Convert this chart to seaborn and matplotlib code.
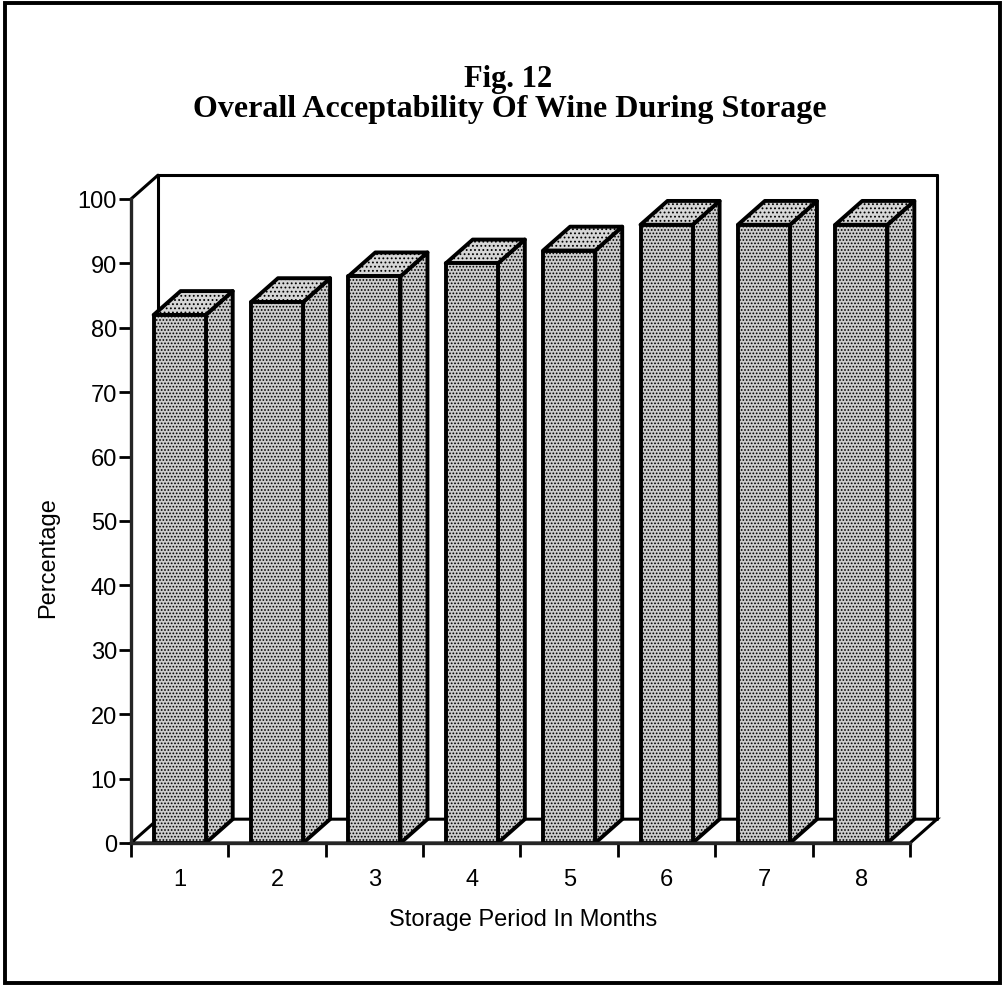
import numpy as np
import pandas as pd
import matplotlib
matplotlib.use('Agg')
import matplotlib.pyplot as plt
import seaborn as sns
from matplotlib.patches import Polygon, Rectangle

# ---------------- data ----------------
months = ['1', '2', '3', '4', '5', '6', '7', '8']
acceptability = [82, 84, 88, 90, 92, 96, 96, 96]
y_ticks = [0, 10, 20, 30, 40, 50, 60, 70, 80, 90, 100]
title_line1 = 'Fig. 12'
title_line2 = 'Overall Acceptability Of Wine During Storage'
x_label = 'Storage Period In Months'
y_label = 'Percentage'

# ---------------- style ----------------
sns.set_theme(style='white')
plt.rcParams['font.family'] = ['Liberation Sans', 'DejaVu Sans']
plt.rcParams['hatch.linewidth'] = 0.8

W, H = 1004, 987
fig = plt.figure(figsize=(W / 100, H / 100), dpi=100)
fig.patch.set_facecolor('white')

# front plane of the pseudo-3D box
ax = fig.add_axes([131 / W, (H - 844) / H, (910 - 131) / W, (844 - 200) / H])
ax.set_facecolor('none')

df = pd.DataFrame({'month': months, 'value': acceptability})
BAR_W = 0.535
FACE = '#cdcdcd'
TOP_FACE = '#d6d6d6'
HATCH = '.....'
LW = 2.8
sns.barplot(data=df, x='month', y='value', color=FACE, saturation=1,
            width=BAR_W, edgecolor='black', linewidth=LW, ax=ax, zorder=5)

ax.set_xlim(-0.5, len(months) - 0.5)
ax.set_ylim(0, 100)

# depth offset in data units
DX, DY = 0.277, 3.7
x_lo, x_hi = -0.5, len(months) - 0.5

# back wall + left wall edges
wall_kw = dict(color='black', lw=2.2, clip_on=False, zorder=1, solid_capstyle='round')
ax.plot([x_lo + DX, x_hi + DX], [100 + DY, 100 + DY], **wall_kw)
ax.plot([x_hi + DX, x_hi + DX], [100 + DY, DY], **wall_kw)
ax.plot([x_lo + DX, x_lo + DX], [100 + DY, DY], **wall_kw)
ax.plot([x_lo, x_lo + DX], [100, 100 + DY], **wall_kw)

# floor
floor = Polygon([(x_lo, 0), (x_hi, 0), (x_hi + DX, DY), (x_lo + DX, DY)],
                closed=True, facecolor='white', edgecolor='black', lw=2.2,
                clip_on=False, zorder=2)
ax.add_patch(floor)

# side and top faces of bars
for p in list(ax.patches):
    if p is floor:
        continue
    x0, w, h = p.get_x(), p.get_width(), p.get_height()
    p.set_hatch(HATCH)
    p.set_joinstyle('round')
    side = Polygon([(x0 + w, 0), (x0 + w + DX, DY), (x0 + w + DX, h + DY), (x0 + w, h)],
                   closed=True, facecolor=FACE, edgecolor='black', lw=LW,
                   hatch=HATCH, clip_on=False, zorder=4, joinstyle='round')
    top = Polygon([(x0, h), (x0 + w, h), (x0 + w + DX, h + DY), (x0 + DX, h + DY)],
                  closed=True, facecolor=TOP_FACE, edgecolor='black', lw=LW,
                  hatch='....', clip_on=False, zorder=4, joinstyle='round')
    ax.add_patch(side)
    ax.add_patch(top)

# spines
for s in ['top', 'right']:
    ax.spines[s].set_visible(False)
ax.spines['left'].set_linewidth(2.4)
ax.spines['bottom'].set_linewidth(2.4)
ax.spines['left'].set_zorder(6)
ax.spines['bottom'].set_zorder(6)

# y ticks
ax.set_yticks(y_ticks)
ax.set_yticklabels([str(v) for v in y_ticks])
ax.tick_params(axis='y', direction='out', length=8.6, width=2.0, pad=1.5,
               labelsize=17, left=True, color='black', labelcolor='black')

# x ticks: labels at centres, marks at boundaries
ax.set_xticks(range(len(months)))
ax.set_xticklabels(months)
ax.tick_params(axis='x', which='major', length=0, pad=18, labelsize=17,
               labelcolor='black')
ax.set_xticks(np.arange(len(months) + 1) - 0.5, minor=True)
ax.tick_params(axis='x', which='minor', direction='out', length=10, width=2.0,
               bottom=True, color='black')

ax.set_xlabel(x_label, fontsize=17, color='black')
ax.set_ylabel(y_label, fontsize=17, color='black')
ax.xaxis.set_label_coords((523 - 131) / 779, (844 - 920) / 644)
ax.xaxis.label.set_va('center')
ax.yaxis.set_label_coords((48 - 131) / 779, (844 - 558) / 644)
ax.yaxis.label.set_va('center')

# titles
serif = ['Liberation Serif', 'DejaVu Serif']
fig.text(508 / W, 1 - 79 / H, title_line1, ha='center', va='center',
         fontsize=22, fontweight='bold', family=serif, color='black')
fig.text(510 / W, 1 - 109 / H, title_line2, ha='center', va='center',
         fontsize=23, fontweight='bold', family=serif, color='black')

# outer border
fig.patches.append(Rectangle((5 / W, 3 / H), (1000 - 5) / W, (983 - 3) / H,
                             transform=fig.transFigure, fill=False,
                             edgecolor='black', lw=2.8))

fig.savefig('out.png', dpi=100, facecolor='white')
